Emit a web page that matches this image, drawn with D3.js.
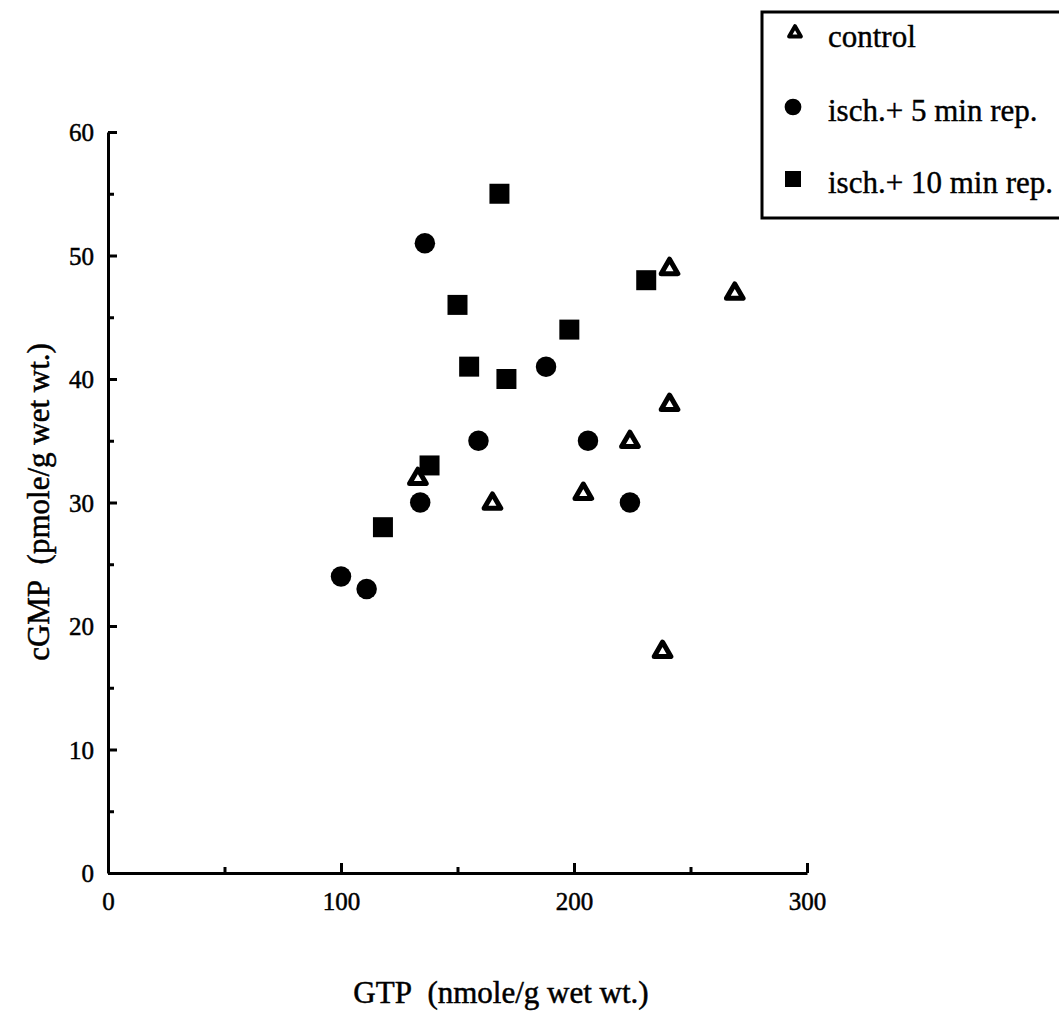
<!DOCTYPE html>
<html><head><meta charset="utf-8">
<script src="https://cdn.jsdelivr.net/npm/d3@7"></script>
<style>
html,body{margin:0;padding:0;background:#fff;}
svg{display:block;}
text{font-family:"Liberation Serif","Times New Roman",serif;fill:#000;}
</style></head>
<body>
<script>
// Data (GTP x, cGMP y)
const controlGTP  = [133, 165, 204, 224, 241, 241, 269, 238];
const controlCGMP = [32, 30, 30.8, 35, 38, 49, 47, 18];
const isch5GTP    = [136, 100, 111, 134, 159, 188, 206, 224];
const isch5CGMP   = [51, 24, 23, 30, 35, 41, 35, 30];
const isch10GTP   = [168, 150, 155, 171, 198, 231, 138, 118];
const isch10CGMP  = [55, 46, 41, 40, 44, 48, 33, 28];
const seriesNames = ["control", "isch.+ 5 min rep.", "isch.+ 10 min rep."];
const xTicks = [0, 100, 200, 300];
const xMinor = [50, 150, 250];
const yTicks = [0, 10, 20, 30, 40, 50, 60];
const yMinor = [5, 15, 25, 35, 45, 55];
const xTitle = "GTP\u00a0\u00a0(nmole/g wet wt.)";
const yTitle = "cGMP\u00a0\u00a0(pmole/g wet wt.)";

const W = 1059, H = 1016;
const svg = d3.select("body").append("svg").attr("width", W).attr("height", H);

const x = d3.scaleLinear().domain([0, 300]).range([108, 807]);
const y = d3.scaleLinear().domain([0, 60]).range([873, 132]);

const TICK_FS = "25px";
// axes
const gx = svg.append("g").attr("transform", `translate(0,${y(0)})`)
  .call(d3.axisBottom(x).tickValues(xTicks).tickSize(-10).tickSizeOuter(0).tickPadding(19));
const gxm = svg.append("g").attr("transform", `translate(0,${y(0)})`)
  .call(d3.axisBottom(x).tickValues(xMinor).tickSize(-6).tickFormat(""));
const gy = svg.append("g").attr("transform", `translate(${x(0)},0)`)
  .call(d3.axisLeft(y).tickValues(yTicks).tickSize(-9).tickSizeOuter(0).tickPadding(14));
const gym = svg.append("g").attr("transform", `translate(${x(0)},0)`)
  .call(d3.axisLeft(y).tickValues(yMinor).tickSize(-6).tickFormat(""));
[gx, gxm, gy, gym].forEach(g => {
  g.attr("font-size", null).attr("font-family", null);
  g.select(".domain").attr("stroke", "#000").attr("stroke-width", 3);
  g.selectAll(".tick line").attr("stroke", "#000").attr("stroke-width", 3);
  g.selectAll("text").style("font-family", '"Liberation Serif",serif').style("font-size", TICK_FS)
    .attr("fill", "#000").attr("stroke", "#000").attr("stroke-width", 0.5);
});
gxm.select(".domain").remove(); gym.select(".domain").remove();
gx.selectAll("text").attr("dy", "0.71em");
gy.selectAll("text").attr("dy", "0.35em");

// titles
svg.append("text").attr("x", 501).attr("y", 1003).attr("text-anchor", "middle")
  .style("font-size", "31px").attr("stroke", "#000").attr("stroke-width", 0.5).text(xTitle);
svg.append("text").attr("transform", `translate(49,${502}) rotate(-90)`).attr("text-anchor", "middle")
  .style("font-size", "31px").attr("stroke", "#000").attr("stroke-width", 0.5).text(yTitle);

// markers
const tri = d3.symbol().type(d3.symbolTriangle);
const circ = d3.symbol().type(d3.symbolCircle);
const sq = d3.symbol().type(d3.symbolSquare);

const ctrl = controlGTP.map((v, i) => ({x: v, y: controlCGMP[i]}));
const s5 = isch5GTP.map((v, i) => ({x: v, y: isch5CGMP[i]}));
const s10 = isch10GTP.map((v, i) => ({x: v, y: isch10CGMP[i]}));

svg.append("g").selectAll("path").data(s10).join("path")
  .attr("transform", d => `translate(${x(d.x)},${y(d.y)})`)
  .attr("d", sq.size(400)()).attr("fill", "#000");
svg.append("g").selectAll("path").data(s5).join("path")
  .attr("transform", d => `translate(${x(d.x)},${y(d.y)})`)
  .attr("d", circ.size(330)()).attr("fill", "#000");
svg.append("g").selectAll("path").data(ctrl).join("path")
  .attr("transform", d => `translate(${x(d.x)},${y(d.y) + 1})`)
  .attr("d", tri.size(120)()).attr("fill", "#fff").attr("stroke", "#000")
  .attr("stroke-width", 5).attr("stroke-linejoin", "round");

// legend
const lg = svg.append("g");
lg.append("rect").attr("x", 762).attr("y", 12).attr("width", 320).attr("height", 206)
  .attr("fill", "#fff").attr("stroke", "#000").attr("stroke-width", 3);
const rowsY = [36, 110, 182];
lg.append("path").attr("transform", `translate(795,${rowsY[0] - 3})`)
  .attr("d", tri.size(60)()).attr("fill", "#fff").attr("stroke", "#000").attr("stroke-width", 4).attr("stroke-linejoin", "round");
lg.append("path").attr("transform", `translate(793,${rowsY[1] - 3})`)
  .attr("d", circ.size(220)()).attr("fill", "#000");
lg.append("path").attr("transform", `translate(793,${rowsY[2] - 3})`)
  .attr("d", sq.size(256)()).attr("fill", "#000");
seriesNames.forEach((n, i) => {
  lg.append("text").attr("x", 828).attr("y", rowsY[i]).attr("dy", "0.35em")
    .style("font-size", "31px").attr("stroke", "#000").attr("stroke-width", 0.4).text(n);
});
</script>
</body></html>
